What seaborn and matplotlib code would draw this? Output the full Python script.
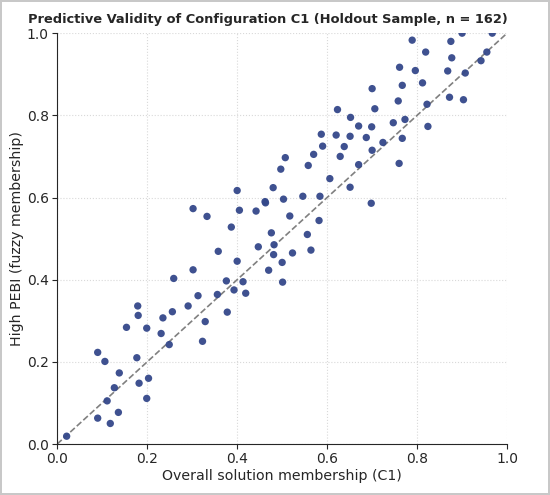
import numpy as np
import pandas as pd
import matplotlib
matplotlib.use("Agg")
import matplotlib.pyplot as plt
import seaborn as sns

# Holdout points (membership scores)
solution_membership = [
    0.021, 0.090, 0.118, 0.136, 0.111, 0.127, 0.138, 0.090, 0.106, 0.177,
    0.182, 0.203, 0.199, 0.154, 0.179, 0.180, 0.199, 0.231, 0.249, 0.235,
    0.256, 0.259, 0.291, 0.313, 0.329, 0.323, 0.302, 0.356, 0.378, 0.358,
    0.376, 0.393, 0.400, 0.413, 0.419, 0.447, 0.470, 0.481, 0.482, 0.500,
    0.587, 0.620, 0.651, 0.670, 0.699, 0.687, 0.747, 0.773, 0.767, 0.724,
    0.700, 0.590, 0.638, 0.570, 0.629, 0.507, 0.558, 0.497, 0.670, 0.760,
    0.606, 0.480, 0.651, 0.462, 0.503, 0.546, 0.584, 0.698, 0.517, 0.582,
    0.476, 0.556, 0.523, 0.564, 0.501,
    0.900, 0.967, 0.789, 0.875, 0.819, 0.955, 0.877, 0.942, 0.761, 0.796,
    0.868, 0.907, 0.767, 0.812, 0.758, 0.872, 0.903, 0.822, 0.824,
    0.400, 0.302, 0.333, 0.405, 0.442, 0.463, 0.387,
    0.700, 0.623, 0.706, 0.652,
]
pebi_membership = [
    0.019, 0.063, 0.050, 0.077, 0.105, 0.137, 0.173, 0.223, 0.201, 0.210,
    0.148, 0.160, 0.111, 0.284, 0.336, 0.313, 0.282, 0.269, 0.242, 0.307,
    0.322, 0.403, 0.336, 0.361, 0.298, 0.250, 0.424, 0.364, 0.321, 0.469,
    0.397, 0.375, 0.445, 0.395, 0.367, 0.480, 0.423, 0.461, 0.485, 0.442,
    0.754, 0.752, 0.749, 0.774, 0.772, 0.746, 0.782, 0.790, 0.744, 0.734,
    0.715, 0.725, 0.724, 0.705, 0.700, 0.697, 0.678, 0.669, 0.680, 0.683,
    0.646, 0.624, 0.625, 0.590, 0.596, 0.603, 0.603, 0.586, 0.555, 0.544,
    0.514, 0.510, 0.465, 0.472, 0.394,
    1.000, 1.000, 0.983, 0.980, 0.954, 0.954, 0.940, 0.933, 0.917, 0.909,
    0.908, 0.903, 0.873, 0.879, 0.835, 0.844, 0.838, 0.827, 0.773,
    0.617, 0.573, 0.554, 0.569, 0.567, 0.587, 0.528,
    0.865, 0.814, 0.816, 0.795,
]
diag = [0.0, 1.0]

df = pd.DataFrame({"x": solution_membership, "y": pebi_membership})

sns.set_style("ticks")
fig = plt.figure(figsize=(5.5, 4.95), dpi=100)
fig.patch.set_edgecolor("#c8c8c8")
fig.patch.set_linewidth(1.5)
ax = fig.add_axes([0.104, 0.103, 0.818, 0.830])

sns.scatterplot(data=df, x="x", y="y", ax=ax, color="#34488a", s=28,
                edgecolor="none", alpha=0.95, zorder=3)
sns.lineplot(x=diag, y=diag, ax=ax, color="gray", linestyle="--", linewidth=1.2, zorder=2)

ax.set_xlim(0, 1)
ax.set_ylim(0, 1)
ax.set_xticks(np.arange(0, 1.01, 0.2))
ax.set_yticks(np.arange(0, 1.01, 0.2))
ax.grid(True, linestyle=":", color="#d9d9d9", linewidth=0.8, zorder=0)
sns.despine(ax=ax)
ax.tick_params(labelsize=10, pad=2.5)
ax.set_xlabel("Overall solution membership (C1)", fontsize=10.2, labelpad=2)
ax.set_ylabel("High PEBI (fuzzy membership)", fontsize=10.2, labelpad=2)
fig.text(0.487, 0.96, "Predictive Validity of Configuration C1 (Holdout Sample, n = 162)",
         fontsize=9.4, fontweight="bold", ha="center", va="center")

fig.savefig("out.png", dpi=100, edgecolor=fig.get_edgecolor())
